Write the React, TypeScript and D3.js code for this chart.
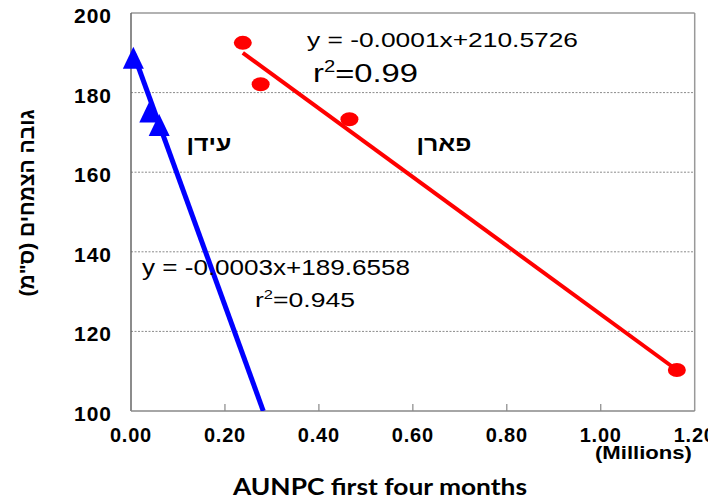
import { useEffect, useRef } from 'react'
import * as d3 from 'd3'

// Eidan (blue triangles)
const eidanX = [0.005, 0.04, 0.06]
const eidanY = [188.5, 175.0, 171.6]
// Paran (red circles)
const paranX = [0.238, 0.276, 0.465, 1.162]
const paranY = [192.5, 182.1, 173.3, 110.3]
// trendline end points as drawn
const eidanTrendX = [0.005, 0.2816]
const eidanTrendY = [189.9, 100]
const paranTrendX = [0.238, 1.162]
const paranTrendY = [190.0, 110.3]

const xTicks = [0, 0.2, 0.4, 0.6, 0.8, 1.0, 1.2]
const yTicks = [100, 120, 140, 160, 180, 200]
const gridTicks = [120, 140, 160, 180]

const eidanEq = 'y = -0.0003x+189.6558'
const eidanR2 = '0.945'
const paranEq = 'y = -0.0001x+210.5726'
const paranR2 = '0.99'

export default function App() {
  const svgRef = useRef<SVGSVGElement>(null)

  useEffect(() => {
    if (!svgRef.current) return
    const width = 720
    const height = 500
    const left = 131
    const right = 694.7
    const top = 13
    const bottom = 411

    d3.select(svgRef.current).selectAll('*').remove()
    const svg = d3.select(svgRef.current).attr('width', width).attr('height', height)

    svg.append('rect').attr('width', width).attr('height', height).attr('fill', '#fff')

    const x = d3.scaleLinear().domain([0, 1.2]).range([left, right])
    const y = d3.scaleLinear().domain([100, 200]).range([bottom, top])

    const defs = svg.append('defs')
    defs.append('clipPath').attr('id', 'plot-clip')
      .append('rect').attr('x', left).attr('y', top).attr('width', right - left).attr('height', bottom - top)
    defs.append('clipPath').attr('id', 'page-clip')
      .append('rect').attr('x', 0).attr('y', 0).attr('width', 708).attr('height', height)

    // grid
    svg.selectAll('.grid')
      .data(gridTicks)
      .enter()
      .append('line')
      .attr('x1', left)
      .attr('x2', right)
      .attr('y1', d => y(d))
      .attr('y2', d => y(d))
      .attr('stroke', '#8a8a8a')
      .attr('stroke-width', 1)
      .attr('stroke-dasharray', '2,1.5')

    // frame
    svg.append('line').attr('x1', left).attr('x2', right).attr('y1', top).attr('y2', top)
      .attr('stroke', '#999').attr('stroke-width', 1.5)
    svg.append('line').attr('x1', right).attr('x2', right).attr('y1', top).attr('y2', bottom)
      .attr('stroke', '#999').attr('stroke-width', 1.5)
    svg.append('line').attr('x1', left).attr('x2', left).attr('y1', top).attr('y2', bottom)
      .attr('stroke', '#666').attr('stroke-width', 1.5)
    svg.append('line').attr('x1', left).attr('x2', right).attr('y1', bottom).attr('y2', bottom)
      .attr('stroke', '#888').attr('stroke-width', 1.5)

    // x ticks (inside)
    svg.selectAll('.xtick')
      .data(xTicks.slice(1, -1))
      .enter()
      .append('line')
      .attr('x1', d => x(d))
      .attr('x2', d => x(d))
      .attr('y1', bottom)
      .attr('y2', bottom - 7)
      .attr('stroke', '#888')
      .attr('stroke-width', 1.2)

    const tickFont = '"Liberation Sans", Arial, sans-serif'

    svg.append('g').attr('clip-path', 'url(#page-clip)')
      .selectAll('text')
      .data(xTicks)
      .enter()
      .append('text')
      .attr('x', d => x(d))
      .attr('y', bottom + 31)
      .attr('text-anchor', 'middle')
      .style('font-family', tickFont)
      .style('font-weight', 'bold')
      .style('font-size', '20px')
      .style('letter-spacing', '0.8px')
      .text(d => d3.format('.2f')(d))

    svg.selectAll('.ylab')
      .data(yTicks)
      .enter()
      .append('text')
      .attr('x', 112)
      .attr('y', d => y(d) + 10)
      .attr('text-anchor', 'end')
      .style('font-family', tickFont)
      .style('font-weight', 'bold')
      .style('font-size', '21px')
      .style('letter-spacing', '1px')
      .text(d => d)

    svg.append('text')
      .attr('x', 643.5)
      .attr('y', 459)
      .attr('text-anchor', 'middle')
      .attr('textLength', 97)
      .attr('lengthAdjust', 'spacingAndGlyphs')
      .style('font-family', tickFont)
      .style('font-weight', 'bold')
      .style('font-size', '18px')
      .text('(Millions)')

    // axis titles
    svg.append('text')
      .attr('x', 380)
      .attr('y', 495)
      .attr('text-anchor', 'middle')
      .attr('textLength', 294)
      .attr('lengthAdjust', 'spacingAndGlyphs')
      .style('font-family', 'Lato, "Open Sans", sans-serif')
      .style('font-weight', 'bold')
      .style('font-size', '23px')
      .text('AUNPC first four months')

    svg.append('text')
      .attr('transform', 'translate(34, 203) rotate(-90)')
      .attr('text-anchor', 'middle')
      .attr('direction', 'rtl')
      .attr('textLength', 187)
      .attr('lengthAdjust', 'spacingAndGlyphs')
      .style('font-family', tickFont)
      .style('font-weight', 'bold')
      .style('font-size', '21px')
      .text('גובה הצמחים (ס"מ)')

    // trendlines
    const line = d3.line<[number, number]>()
      .x(d => x(d[0]))
      .y(d => y(d[1]))

    const plot = svg.append('g').attr('clip-path', 'url(#plot-clip)')
    plot.append('path')
      .datum(eidanTrendX.map((v, i) => [v, eidanTrendY[i]] as [number, number]))
      .attr('d', line)
      .attr('fill', 'none')
      .attr('stroke', '#0000ff')
      .attr('stroke-width', 5)

    svg.append('path')
      .datum(paranTrendX.map((v, i) => [v, paranTrendY[i]] as [number, number]))
      .attr('d', line)
      .attr('fill', 'none')
      .attr('stroke', '#ff0000')
      .attr('stroke-width', 4)

    // markers
    svg.selectAll('.tri')
      .data(eidanX.map((v, i) => [v, eidanY[i]]))
      .enter()
      .append('path')
      .attr('transform', d => `translate(${x(d[0])},${y(d[1])})`)
      .attr('d', 'M0,-12L10.5,10L-10.5,10Z')
      .attr('fill', '#0000ff')

    svg.selectAll('.dot')
      .data(paranX.map((v, i) => [v, paranY[i]]))
      .enter()
      .append('ellipse')
      .attr('cx', d => x(d[0]))
      .attr('cy', d => y(d[1]))
      .attr('rx', 9)
      .attr('ry', 7)
      .attr('fill', '#ff0000')

    // equations
    const eqFont = '"Liberation Sans", Arial, sans-serif'
    const addEq = (tx: number, ty: number, txt: string, len: number, size: number) => {
      svg.append('text')
        .attr('x', tx)
        .attr('y', ty)
        .attr('textLength', len)
        .attr('lengthAdjust', 'spacingAndGlyphs')
        .style('font-family', eqFont)
        .style('font-size', size + 'px')
        .text(txt)
    }
    const addR2 = (tx: number, ty: number, val: string, len: number, size: number) => {
      const t = svg.append('text')
        .attr('x', tx)
        .attr('y', ty)
        .attr('textLength', len)
        .attr('lengthAdjust', 'spacingAndGlyphs')
        .style('font-family', eqFont)
        .style('font-size', size + 'px')
      t.append('tspan').text('r')
      t.append('tspan').attr('dy', -size * 0.38).style('font-size', size * 0.62 + 'px').text('2')
      t.append('tspan').attr('dy', size * 0.38).text('=' + val)
    }

    addEq(307, 46.5, paranEq, 271, 21)
    addR2(313, 81.5, paranR2, 105, 26)
    addEq(142, 275, eidanEq, 268, 22)
    addR2(255, 307, eidanR2, 100, 20)

    // series names
    const addName = (tx: number, txt: string, len: number) => {
      svg.append('text')
        .attr('x', tx)
        .attr('y', 151)
        .attr('text-anchor', 'middle')
        .attr('direction', 'rtl')
        .attr('textLength', len)
        .attr('lengthAdjust', 'spacingAndGlyphs')
        .style('font-family', tickFont)
        .style('font-weight', 'bold')
        .style('font-size', '21px')
        .text(txt)
    }
    addName(209, 'עידן', 45)
    addName(444, 'פארן', 55)
  }, [])

  return (
    <svg
      ref={svgRef}
      style={{ position: 'absolute', left: 0, top: 0, display: 'block' }}
    ></svg>
  )
}
